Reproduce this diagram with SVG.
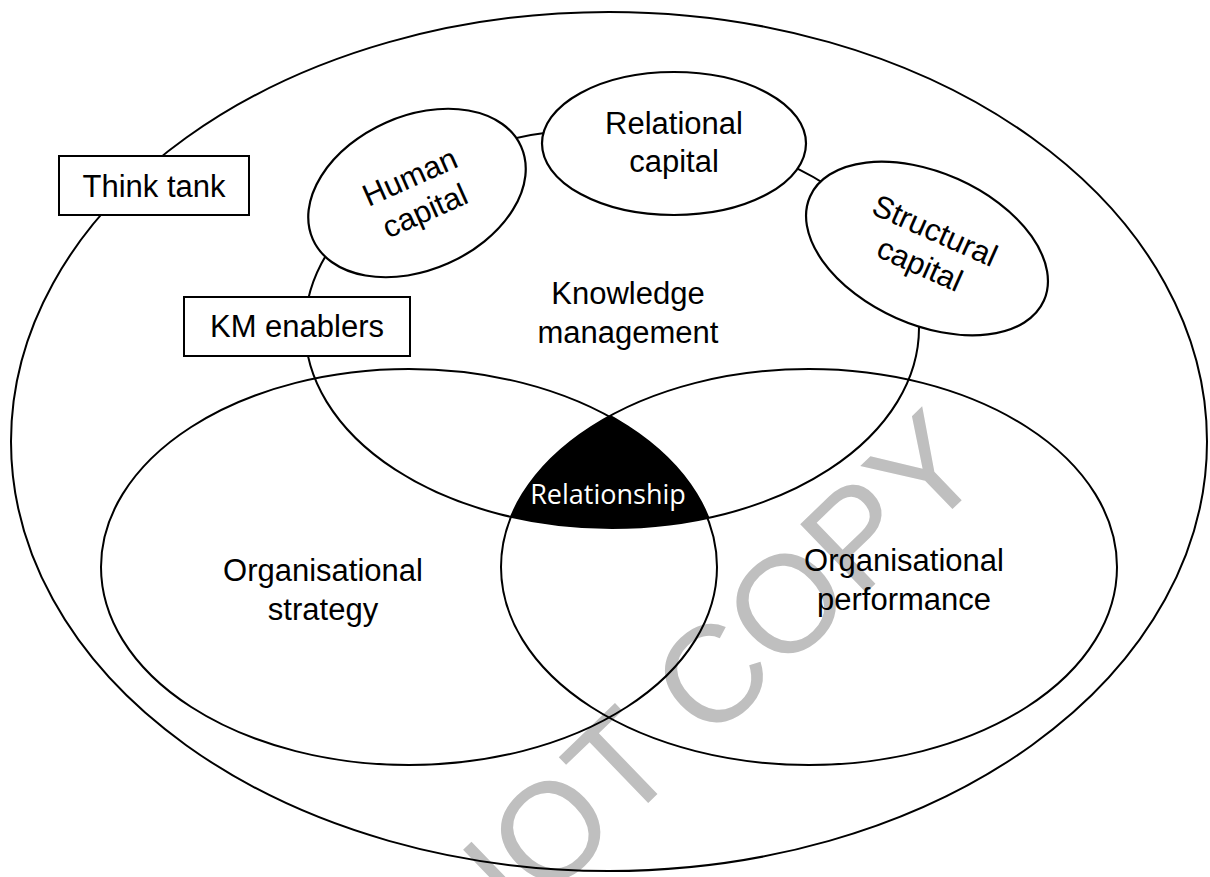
<svg xmlns="http://www.w3.org/2000/svg" width="1210" height="877" viewBox="0 0 1210 877">
  <defs>
    <style>
      .line { fill: none; stroke: #000; stroke-width: 2; }
      .cap { fill: #fff; stroke: #000; stroke-width: 2.2; }
      .box { fill: #fff; stroke: #000; stroke-width: 2; }
      .lbl { font-family: "Liberation Sans", Arial, sans-serif; font-size: 31px; fill: #000; text-anchor: middle; }
      .rel { font-family: "Open Sans", "Noto Sans", sans-serif; font-size: 27px; fill: #fff; text-anchor: middle; }
      .wm { font-family: "Liberation Sans", Arial, sans-serif; font-size: 138px; fill: #bfbfbf; }
    </style>
    <clipPath id="clipPerf">
      <ellipse cx="809" cy="567" rx="308" ry="198"/>
    </clipPath>
    <clipPath id="clipKM">
      <ellipse cx="612" cy="328" rx="307" ry="200"/>
    </clipPath>
  </defs>
  <rect x="0" y="0" width="1210" height="877" fill="#fff"/>

  <g id="watermark">
    <text class="wm" text-anchor="middle" transform="translate(732,722) rotate(-44)">NOT COPY</text>
  </g>

  <g id="think-tank-area">
    <ellipse class="line" cx="609" cy="441.5" rx="598" ry="429.5"/>
  </g>

  <g id="knowledge-management">
    <ellipse class="line" cx="612" cy="328" rx="307" ry="200"/>
    <text class="lbl" x="628" y="304">Knowledge</text>
    <text class="lbl" x="628" y="343">management</text>
  </g>

  <g id="organisational-strategy">
    <ellipse class="line" cx="409" cy="567" rx="308" ry="198"/>
    <text class="lbl" x="323" y="581">Organisational</text>
    <text class="lbl" x="323" y="620">strategy</text>
  </g>

  <g id="organisational-performance">
    <ellipse class="line" cx="809" cy="567" rx="308" ry="198"/>
    <text class="lbl" x="904" y="571">Organisational</text>
    <text class="lbl" x="904" y="610">performance</text>
  </g>

  <g id="relationship">
    <g clip-path="url(#clipPerf)">
      <ellipse cx="409" cy="567" rx="309" ry="199" fill="#000" stroke="#000" stroke-width="2" clip-path="url(#clipKM)"/>
    </g>
    <text class="rel" x="608" y="504">Relationship</text>
  </g>

  <g id="connectors"></g>

  <g id="human-capital">
    <ellipse class="cap" cx="417" cy="193" rx="114" ry="77" transform="rotate(-24 417 193)"/>
    <g transform="translate(417,193) rotate(-24)">
      <text class="lbl" x="0" y="-7">Human</text>
      <text class="lbl" x="0" y="30">capital</text>
    </g>
  </g>

  <g id="relational-capital">
    <ellipse class="cap" cx="674" cy="143.5" rx="132" ry="71.5"/>
    <text class="lbl" x="674" y="134">Relational</text>
    <text class="lbl" x="674" y="172">capital</text>
  </g>

  <g id="structural-capital">
    <ellipse class="cap" cx="927" cy="248.5" rx="128" ry="76" transform="rotate(24 927 248.5)"/>
    <g transform="translate(927,248.5) rotate(24)">
      <text class="lbl" x="0" y="-9">Structural</text>
      <text class="lbl" x="0" y="28">capital</text>
    </g>
  </g>

  <g id="think-tank">
    <rect class="box" x="59" y="156" width="190" height="59"/>
    <text class="lbl" x="154" y="197">Think tank</text>
  </g>

  <g id="km-enablers">
    <rect class="box" x="184" y="297" width="226" height="59"/>
    <text class="lbl" x="297" y="337">KM enablers</text>
  </g>
</svg>
